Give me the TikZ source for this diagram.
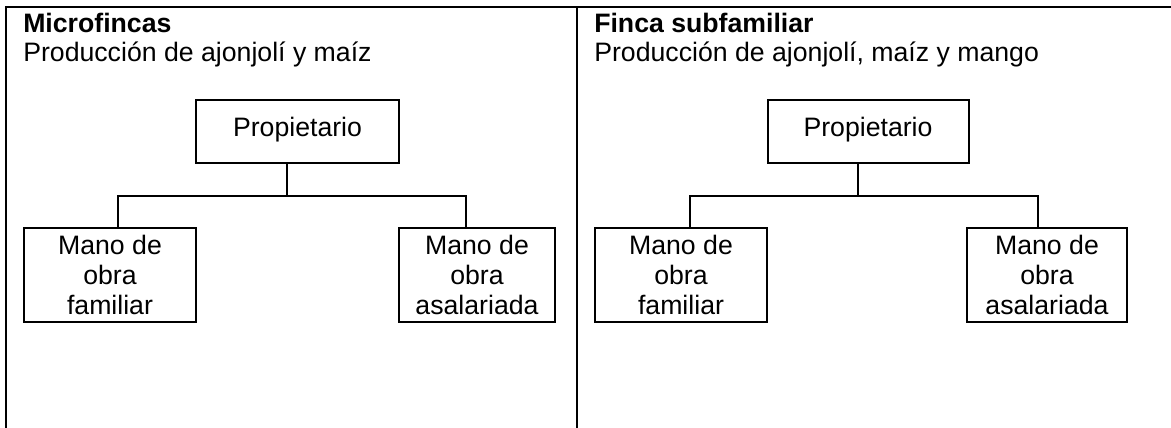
\documentclass[tikz,border=0pt]{standalone}
\usepackage{fontspec}
\setmainfont{Liberation Sans}
\begin{document}
\begin{tikzpicture}[x=0.75pt,y=-0.75pt,
  line/.style={draw=black,line width=1.5pt},
  box/.style={draw=black,line width=1.5pt,rectangle,inner sep=0pt,align=center,
    font={\fontsize{20}{22.7}\selectfont}},
  propbox/.style={box,text height=0.8em,text depth=0.02em},
  ttl/.style={anchor=base west,inner sep=0pt,font={\fontsize{20}{22}\selectfont\bfseries}},
  sub/.style={anchor=base west,inner sep=0pt,font={\fontsize{20}{22}\selectfont}}]
\useasboundingbox (0,0) rectangle (1171,428);
% frame
\coordinate (tl) at (6,7);
\coordinate (tr) at (1171,7);
\coordinate (bl) at (6,428);
\coordinate (dt) at (577,7);
\coordinate (db) at (577,428);
\draw[line] (bl) -- (tl) -- (tr);
\draw[line] (dt) -- (db);
% left panel
\node[ttl] (tL) at (23,33) {Microfincas};
\node[sub] (sL) at (23,62) {Producción de ajonjolí y maíz};
\node[propbox,minimum width=203*0.75pt,minimum height=63*0.75pt] (propL) at (297.5,131.5) {Propietario};
\node[box,minimum width=172*0.75pt,minimum height=94*0.75pt] (famL) at (110,275) {Mano de\\obra\\familiar};
\node[box,minimum width=156*0.75pt,minimum height=94*0.75pt] (asaL) at (477,275) {Mano de\\obra\\asalariada};
\coordinate (jL) at (287,196);
\coordinate (fL) at (118,0);
\coordinate (aL) at (466,0);
\draw[line] (propL.south -| jL) -- (jL);
\draw[line] (famL.north -| fL) |- (jL) -| (asaL.north -| aL);
% right panel
\node[ttl] (tR) at (594,33) {Finca subfamiliar};
\node[sub] (sR) at (594,62) {Producción de ajonjolí, maíz y mango};
\node[propbox,minimum width=201*0.75pt,minimum height=63*0.75pt] (propR) at (868,131.5) {Propietario};
\node[box,minimum width=172*0.75pt,minimum height=94*0.75pt] (famR) at (681,275) {Mano de\\obra\\familiar};
\node[box,minimum width=160*0.75pt,minimum height=94*0.75pt] (asaR) at (1047,275) {Mano de\\obra\\asalariada};
\coordinate (jR) at (858,196);
\coordinate (fR) at (690,0);
\coordinate (aR) at (1038,0);
\draw[line] (propR.south -| jR) -- (jR);
\draw[line] (famR.north -| fR) |- (jR) -| (asaR.north -| aR);
\end{tikzpicture}
\end{document}
